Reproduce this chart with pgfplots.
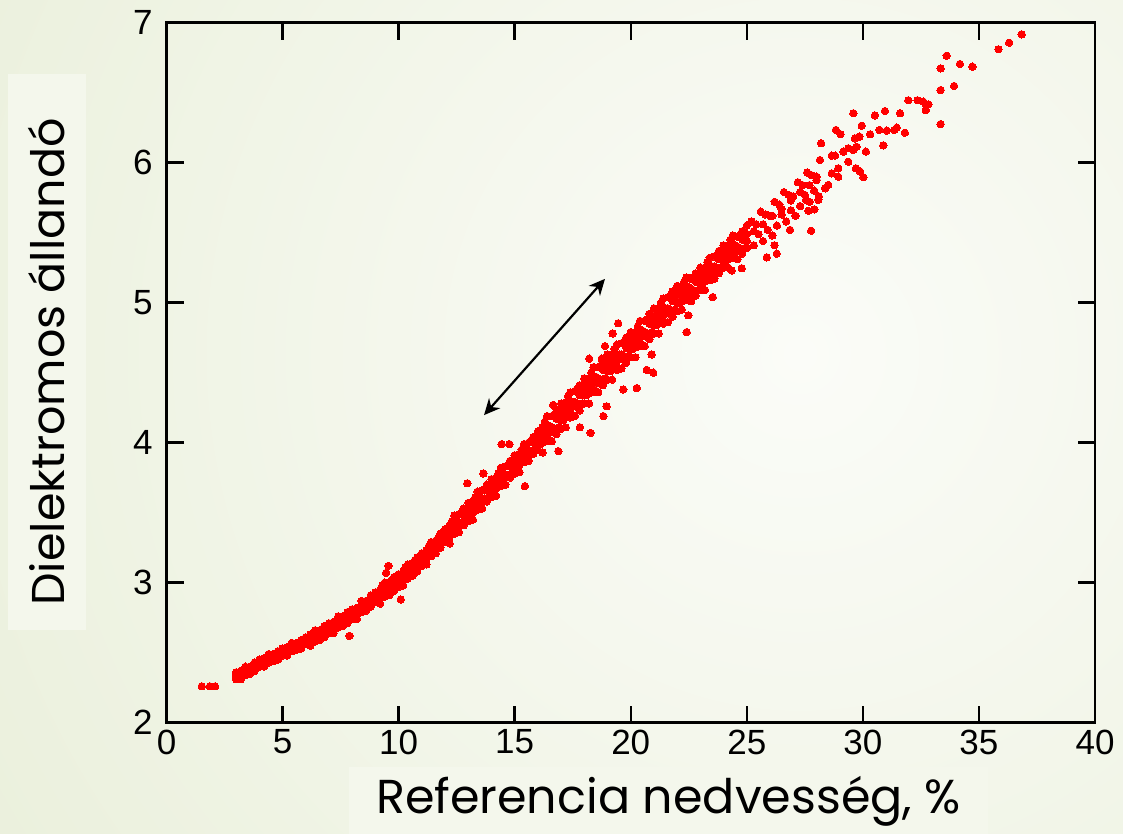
\documentclass[border=0pt]{standalone}
\usepackage{pgfplots}
\pgfplotsset{compat=1.18}
\usepackage{pgfplotstable}
\usepackage{fontspec}
\setmainfont{Liberation Sans}
\newfontfamily\labelfamily{Poppins}
\usetikzlibrary{arrows.meta}
\definecolor{bgouter}{RGB}{218,228,192}
\definecolor{bginner}{RGB}{251,252,248}
\definecolor{labelbg}{RGB}{244,247,236}
\definecolor{dotred}{RGB}{255,0,0}

\pgfplotstableread{
x A B C D
3.0 2.36 2.31 2.34 2.32
3.2 2.37 2.31 2.35 2.34
3.4 2.40 2.34 2.37 2.36
3.6 2.40 2.35 2.38 2.37
3.8 2.43 2.37 2.41 2.38
4.0 2.45 2.40 2.43 2.41
4.2 2.46 2.40 2.44 2.43
4.4 2.49 2.43 2.46 2.45
4.6 2.49 2.44 2.47 2.46
4.8 2.51 2.45 2.49 2.46
5.0 2.53 2.48 2.51 2.49
5.2 2.54 2.48 2.52 2.51
5.4 2.57 2.51 2.54 2.53
5.6 2.57 2.52 2.55 2.54
5.8 2.59 2.53 2.57 2.54
6.0 2.61 2.56 2.59 2.57
6.2 2.63 2.55 2.60 2.58
6.4 2.66 2.58 2.63 2.61
6.6 2.66 2.59 2.63 2.62
6.8 2.69 2.61 2.66 2.63
7.0 2.71 2.64 2.68 2.66
7.2 2.72 2.64 2.69 2.67
7.4 2.76 2.68 2.73 2.71
7.6 2.76 2.69 2.73 2.72
7.8 2.79 2.71 2.76 2.73
8.0 2.81 2.74 2.78 2.76
8.2 2.82 2.74 2.79 2.77
8.4 2.87 2.79 2.84 2.82
8.6 2.87 2.80 2.84 2.83
8.8 2.91 2.83 2.88 2.85
9.0 2.93 2.86 2.90 2.88
9.2 2.95 2.85 2.92 2.89
9.4 3.00 2.90 2.96 2.93
9.6 3.00 2.91 2.96 2.94
9.8 3.04 2.94 3.00 2.96
10.0 3.06 2.97 3.03 3.00
10.2 3.08 2.98 3.05 3.02
10.4 3.13 3.03 3.09 3.06
10.6 3.14 3.05 3.10 3.08
10.8 3.18 3.08 3.14 3.10
11.0 3.21 3.12 3.18 3.15
11.2 3.23 3.13 3.20 3.17
11.4 3.29 3.19 3.25 3.22
11.6 3.30 3.21 3.26 3.24
11.8 3.35 3.25 3.31 3.27
12.0 3.38 3.29 3.35 3.32
12.2 3.41 3.28 3.37 3.33
12.4 3.48 3.35 3.43 3.39
12.6 3.49 3.36 3.43 3.41
12.8 3.53 3.41 3.49 3.43
13.0 3.57 3.44 3.52 3.48
13.2 3.58 3.45 3.54 3.50
13.4 3.65 3.52 3.60 3.56
13.6 3.66 3.53 3.60 3.58
13.8 3.70 3.58 3.66 3.60
14.0 3.74 3.61 3.69 3.65
14.2 3.75 3.62 3.71 3.67
14.4 3.82 3.69 3.77 3.73
14.6 3.83 3.70 3.77 3.75
14.8 3.87 3.75 3.83 3.77
15.0 3.91 3.78 3.86 3.82
15.2 3.92 3.79 3.88 3.84
15.4 3.99 3.86 3.94 3.90
15.6 4.00 3.87 3.94 3.92
15.8 4.04 3.92 4.00 3.94
16.0 4.08 3.95 4.03 3.99
16.2 4.11 3.93 4.05 4.00
16.4 4.19 4.01 4.12 4.07
16.6 4.19 4.01 4.11 4.08
16.8 4.24 4.06 4.17 4.10
17.0 4.28 4.10 4.21 4.16
17.2 4.29 4.11 4.23 4.18
17.4 4.36 4.18 4.29 4.24
17.6 4.37 4.19 4.29 4.26
17.8 4.41 4.23 4.34 4.27
18.0 4.46 4.28 4.39 4.34
18.2 4.46 4.28 4.40 4.35
18.4 4.54 4.36 4.47 4.42
18.6 4.54 4.36 4.46 4.43
18.8 4.59 4.41 4.52 4.45
19.0 4.63 4.45 4.56 4.51
19.2 4.63 4.45 4.57 4.52
19.4 4.70 4.52 4.63 4.58
19.6 4.71 4.53 4.63 4.60
19.8 4.75 4.57 4.68 4.61
20.0 4.79 4.61 4.72 4.67
20.2 4.79 4.61 4.73 4.68
20.4 4.87 4.69 4.80 4.75
20.6 4.87 4.69 4.79 4.76
20.8 4.92 4.74 4.85 4.78
21.0 4.96 4.78 4.89 4.84
21.2 4.96 4.78 4.90 4.85
21.4 5.03 4.85 4.96 4.91
21.6 5.04 4.86 4.96 4.93
21.8 5.08 4.90 5.01 4.94
22.0 5.12 4.94 5.05 5.00
22.2 5.11 4.95 5.06 5.01
22.4 5.18 5.02 5.12 5.07
22.6 5.17 5.01 5.10 5.07
22.8 5.21 5.05 5.15 5.08
23.0 5.25 5.09 5.19 5.14
23.2 5.25 5.09 5.20 5.15
23.4 5.32 5.16 5.26 5.21
23.6 5.33 5.17 5.26 5.23
23.8 5.37 5.21 5.31 5.24
24.0 5.41 5.25 5.35 5.30
24.2 5.41 5.25 5.36 5.31
24.4 5.48 5.32 5.42 5.37
24.6 5.47 5.31 5.40 5.37
24.8 5.51 5.35 5.45 5.38
25.0 5.55 5.39 5.49 5.44
}\band

\pgfplotstableread{
x E F
9.1 2.93 2.88
9.3 2.98 2.92
9.5 2.96 2.91
9.7 3.02 2.96
9.9 3.02 2.97
10.1 3.06 3.01
10.3 3.11 3.05
10.5 3.10 3.05
10.7 3.16 3.10
10.9 3.17 3.12
11.1 3.21 3.16
11.3 3.26 3.20
11.5 3.26 3.21
11.7 3.32 3.26
11.9 3.34 3.29
12.1 3.39 3.32
12.3 3.44 3.37
12.5 3.44 3.36
12.7 3.50 3.43
12.9 3.52 3.45
13.1 3.56 3.49
13.3 3.61 3.54
13.5 3.61 3.53
13.7 3.67 3.60
13.9 3.69 3.62
14.1 3.73 3.66
14.3 3.78 3.71
14.5 3.78 3.70
14.7 3.84 3.77
14.9 3.86 3.79
15.1 3.90 3.83
15.3 3.95 3.88
15.5 3.95 3.87
15.7 4.01 3.94
15.9 4.03 3.96
16.1 4.09 3.99
16.3 4.15 4.04
16.5 4.12 4.02
16.7 4.20 4.10
16.9 4.21 4.11
17.1 4.26 4.16
17.3 4.33 4.22
17.5 4.29 4.19
17.7 4.38 4.28
17.9 4.38 4.28
18.1 4.44 4.34
18.3 4.50 4.39
18.5 4.47 4.37
18.7 4.55 4.45
18.9 4.56 4.46
19.1 4.61 4.51
19.3 4.67 4.56
19.5 4.63 4.53
19.7 4.72 4.62
19.9 4.72 4.62
20.1 4.77 4.67
20.3 4.83 4.72
20.5 4.80 4.70
20.7 4.88 4.78
20.9 4.89 4.79
21.1 4.94 4.84
21.3 5.00 4.89
21.5 4.96 4.86
21.7 5.05 4.95
21.9 5.05 4.95
22.1 5.09 5.00
22.3 5.15 5.05
22.5 5.11 5.02
22.7 5.18 5.09
22.9 5.19 5.09
23.1 5.23 5.14
23.3 5.29 5.19
23.5 5.26 5.17
23.7 5.34 5.25
23.9 5.35 5.25
24.1 5.39 5.30
24.3 5.45 5.35
24.5 5.41 5.32
24.7 5.48 5.39
24.9 5.49 5.39
}\bandmid

\pgfplotstableread{
x A xb B
25.2 5.58 25.3 5.41
25.4 5.56 25.5 5.49
25.6 5.65 25.7 5.44
25.8 5.63 25.9 5.52
26.0 5.62 26.1 5.48
26.2 5.72 26.3 5.55
26.4 5.70 26.5 5.63
26.6 5.79 26.7 5.58
26.8 5.77 26.9 5.66
27.0 5.76 27.1 5.62
27.2 5.86 27.3 5.69
27.4 5.84 27.5 5.77
27.6 5.93 27.7 5.72
27.8 5.91 27.9 5.80
28.0 5.90 28.1 5.76
}\bandtail

\pgfplotstableread{
x y
1.52 2.26
1.87 2.26
2.09 2.26
25.3 5.51
25.7 5.56
26.1 5.62
26.5 5.67
26.9 5.73
27.3 5.79
27.7 5.84
29.59 6.353
30.52 6.338
30.95 6.369
31.60 6.353
31.96 6.446
32.35 6.446
32.60 6.436
32.72 6.412
32.82 6.417
32.71 6.376
33.35 6.674
33.61 6.764
34.18 6.705
34.72 6.686
33.35 6.519
33.93 6.548
33.35 6.276
35.84 6.81
36.30 6.857
36.84 6.917
29.95 6.264
28.84 6.234
29.04 6.203
30.31 6.203
30.71 6.234
31.03 6.229
31.36 6.234
31.46 6.25
31.81 6.214
30.88 6.124
28.20 6.139
28.15 6.019
29.66 6.174
29.85 6.186
29.16 6.079
29.37 6.007
29.70 5.96
30.02 5.896
29.88 5.936
30.13 6.079
28.66 6.05
28.80 6.05
28.94 5.96
27.77 5.514
27.65 5.657
27.91 5.667
27.55 5.734
28.08 5.734
28.37 5.817
28.51 5.841
28.01 5.876
28.66 5.924
28.94 5.90
29.37 6.103
29.59 6.091
29.73 6.114
26.29 5.35
25.86 5.324
24.78 5.246
24.35 5.23
23.53 5.04
22.48 4.91
26.86 5.52
26.19 5.41
19.46 4.853
19.22 4.78
18.21 4.60
18.75 4.60
18.89 4.69
22.41 4.79
20.26 4.39
19.68 4.38
20.97 4.50
20.69 4.52
20.90 4.63
18.82 4.19
18.96 4.26
18.27 4.07
16.88 3.94
16.66 4.27
17.81 4.11
14.44 3.99
14.77 3.99
13.65 3.78
12.96 3.71
9.56 3.12
9.46 3.07
10.09 2.88
15.44 3.69
7.88 2.62
}\extra

\begin{document}
\begin{tikzpicture}
\useasboundingbox (0,0) rectangle (561.5pt,417pt);
\begin{scope}
\clip (0,0) rectangle (561.5pt,417pt);
\shade[inner color=bginner, outer color=bgouter] (400pt,240pt) circle (950pt);
\end{scope}
\begin{axis}[
  at={(83.25pt,55.65pt)}, anchor=south west,
  scale only axis, width=464.25pt, height=350pt,
  xmin=0, xmax=40, ymin=2, ymax=7,
  xtick={0,5,...,40}, ytick={2,3,...,7},
  tick align=inside, major tick length=8.5pt,
  every tick/.style={line width=1.2pt, black},
  axis line style={line width=1.3pt, black},
  /pgf/number format/assume math mode=true,
  ticklabel style={font=\fontsize{17.5pt}{20pt}\selectfont},
  yticklabel style={xshift=-3.4pt},
  xlabel={Referencia nedvesség, \%},
  ylabel={Dielektromos állandó\hspace*{10pt}},
  xlabel style={at={(axis description cs:0.5407,-0.1119)}, anchor=center,
     fill=labelbg, minimum width=319.5pt, minimum height=34pt, inner sep=0pt,
     font=\labelfamily\fontsize{23.8pt}{27pt}\selectfont},
  ylabel style={at={(axis description cs:-0.1287,0.5296)}, anchor=center, rotate=0,
     fill=labelbg, minimum width=278pt, minimum height=39pt, inner sep=0pt,
     font=\labelfamily\fontsize{23pt}{27pt}\selectfont},
  dots/.style={only marks, mark=*, mark size=1.85pt,
     mark options={fill=dotred, draw=dotred, line width=0pt}},
]
\addplot[dots] table[x=x,y=A]{\band};
\addplot[dots] table[x=x,y=B]{\band};
\addplot[dots] table[x=x,y=C]{\band};
\addplot[dots] table[x=x,y=D]{\band};
\addplot[dots] table[x=x,y=E]{\bandmid};
\addplot[dots] table[x=x,y=F]{\bandmid};
\addplot[dots] table[x=x,y=A]{\bandtail};
\addplot[dots] table[x=xb,y=B]{\bandtail};
\addplot[dots] table[x=x,y=y]{\extra};
\draw[{Stealth[length=8pt,width=7.5pt]}-{Stealth[length=8pt,width=7.5pt]}, line width=1.1pt, black]
  (axis cs:13.68,4.197) -- (axis cs:18.89,5.17);
\end{axis}
\end{tikzpicture}
\end{document}
